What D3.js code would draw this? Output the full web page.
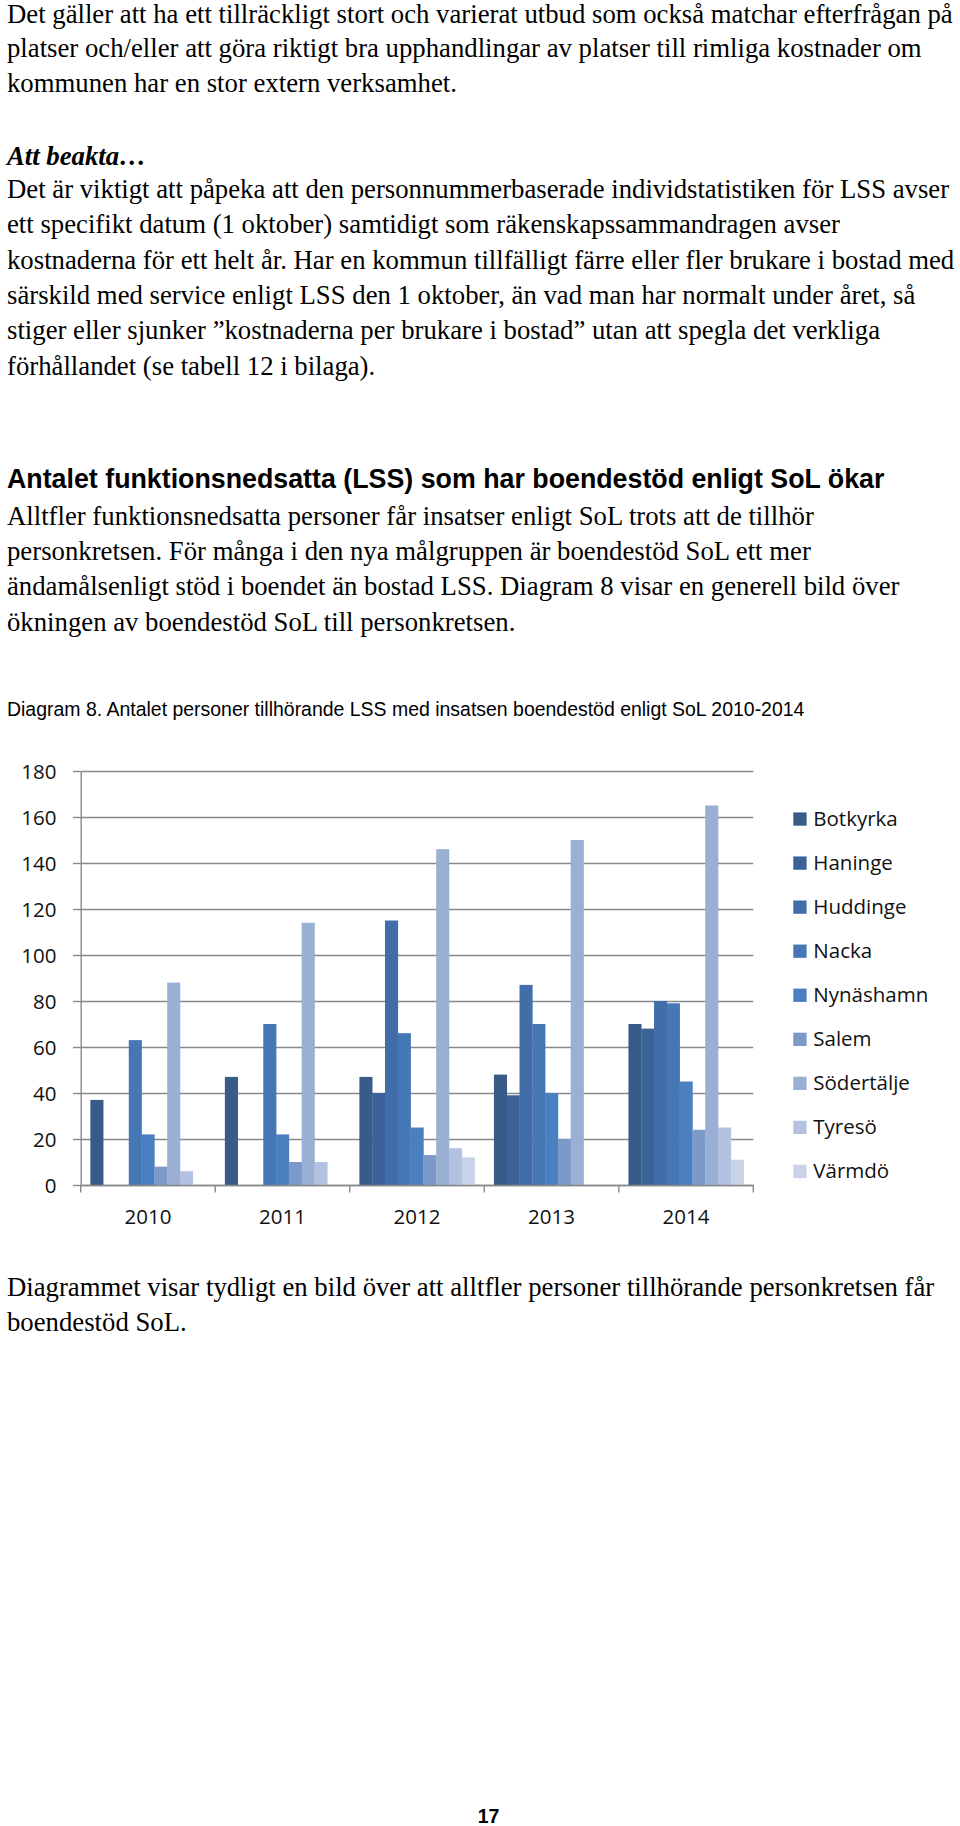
<!DOCTYPE html>
<html><head><meta charset="utf-8">
<script src="https://cdn.jsdelivr.net/npm/d3@7"></script>
<style>html,body{margin:0;padding:0;background:#fff;} svg{display:block;}</style>
</head><body>
<script>
// ---------- data ----------
const years = ["2010", "2011", "2012", "2013", "2014"];
const municipalities = ["Botkyrka", "Haninge", "Huddinge", "Nacka", "Nynäshamn", "Salem", "Södertälje", "Tyresö", "Värmdö"];
const botkyrka   = [37, 47, 47, 48, 70];
const haninge    = [0, 0, 40, 39, 68];
const huddinge   = [0, 0, 115, 87, 80];
const nacka      = [63, 70, 66, 70, 79];
const nynashamn  = [22, 22, 25, 40, 45];
const salem      = [8, 10, 13, 20, 24];
const sodertalje = [88, 114, 146, 150, 165];
const tyreso     = [6, 10, 16, 0, 25];
const varmdo     = [0, 0, 12, 0, 11];
const yTicks = [0, 20, 40, 60, 80, 100, 120, 140, 160, 180];
const seriesValues = [botkyrka, haninge, huddinge, nacka, nynashamn, salem, sodertalje, tyreso, varmdo];
const colors = ["#395b88", "#3c6398", "#416ea8", "#4677b5", "#4b80c0", "#7d99c9", "#9aafd4", "#b2c2e0", "#c9d3e8"];

const para1 = [
  "Det gäller att ha ett tillräckligt stort och varierat utbud som också matchar efterfrågan på",
  "platser och/eller att göra riktigt bra upphandlingar av platser till rimliga kostnader om",
  "kommunen har en stor extern verksamhet."
];
const noteTitle = "Att beakta…";
const para2 = [
  "Det är viktigt att påpeka att den personnummerbaserade individstatistiken för LSS avser",
  "ett specifikt datum (1 oktober) samtidigt som räkenskapssammandragen avser",
  "kostnaderna för ett helt år. Har en kommun tillfälligt färre eller fler brukare i bostad med",
  "särskild med service enligt LSS den 1 oktober, än vad man har normalt under året, så",
  "stiger eller sjunker ”kostnaderna per brukare i bostad” utan att spegla det verkliga",
  "förhållandet (se tabell 12 i bilaga)."
];
const heading = "Antalet funktionsnedsatta (LSS) som har boendestöd enligt SoL ökar";
const para3 = [
  "Alltfler funktionsnedsatta personer får insatser enligt SoL trots att de tillhör",
  "personkretsen. För många i den nya målgruppen är boendestöd SoL ett mer",
  "ändamålsenligt stöd i boendet än bostad LSS. Diagram 8 visar en generell bild över",
  "ökningen av boendestöd SoL till personkretsen."
];
const caption = "Diagram 8. Antalet personer tillhörande LSS med insatsen boendestöd enligt SoL 2010-2014";
const para4 = [
  "Diagrammet visar tydligt en bild över att alltfler personer tillhörande personkretsen får",
  "boendestöd SoL."
];
const pageNumber = "17";

// ---------- page ----------
const W = 960, H = 1826;
const svg = d3.select("body").append("svg").attr("width", W).attr("height", H);

const SERIF = "'Liberation Serif','Times New Roman',serif";
const SANS = "'Liberation Sans',Arial,sans-serif";
const CHARTFONT = "'Open Sans',sans-serif";

function fitSize(family, weight, style, sample, target, base) {
  const t = svg.append("text").attr("font-family", family).attr("font-weight", weight)
    .attr("font-style", style).attr("font-size", base).text(sample);
  const w = t.node().getComputedTextLength();
  t.remove();
  return base * target / w;
}

const bodySize = fitSize(SERIF, "normal", "normal", para1[0], 946, 24);
const headSize = fitSize(SANS, "bold", "normal", heading, 878, 22);
const capSize = fitSize(SANS, "normal", "normal", caption, 798, 18);
const chartSize = fitSize(CHARTFONT, "normal", "normal", "Nynäshamn", 115, 20);

function lines(arr, x, y0, dy, opts) {
  svg.append("g").selectAll("text").data(arr).join("text")
    .attr("x", x).attr("y", (d, i) => y0 + i * dy)
    .attr("font-family", opts.family).attr("font-size", opts.size)
    .attr("font-weight", opts.weight || "normal").attr("font-style", opts.style || "normal")
    .attr("fill", "#000").text(d => d);
}

lines(para1, 7, 22.5, 34.6, {family: SERIF, size: bodySize});
lines([noteTitle], 7, 164.5, 0, {family: SERIF, size: bodySize, weight: "bold", style: "italic"});
lines(para2, 7, 198, 35.3, {family: SERIF, size: bodySize});
lines([heading], 7, 488, 0, {family: SANS, size: headSize, weight: "bold"});
lines(para3, 7, 525, 35.2, {family: SERIF, size: bodySize});
lines([caption], 7, 716, 0, {family: SANS, size: capSize});
lines(para4, 7, 1295.5, 35.3, {family: SERIF, size: bodySize});
svg.append("text").attr("x", 488.5).attr("y", 1823).attr("text-anchor", "middle")
  .attr("font-family", SANS).attr("font-weight", "bold").attr("font-size", 19.5).text(pageNumber);

// ---------- chart ----------
const plot = {left: 80.7, right: 753.3, top: 771, bottom: 1185};
const gridColor = "#898989";

const y = d3.scaleLinear().domain([0, 180]).range([plot.bottom, plot.top]);
const x0 = d3.scaleBand().domain(years).range([plot.left, plot.right]).padding(0);
const x1 = d3.scaleBand().domain(municipalities).range([0, x0.bandwidth()])
  .paddingInner(0).paddingOuter(0.754);
const color = d3.scaleOrdinal().domain(municipalities).range(colors);

// gridlines
svg.append("g").attr("transform", `translate(${plot.left},0)`)
  .call(d3.axisLeft(y).tickValues(yTicks).tickSize(-(plot.right - plot.left)).tickFormat(""))
  .call(g => g.select(".domain").remove())
  .call(g => g.selectAll("line").attr("stroke", gridColor).attr("stroke-width", 1.4));

// bars
const rows = years.map((yr, i) => ({year: yr, values: municipalities.map((m, j) => ({m, v: seriesValues[j][i]}))}));
svg.append("g").selectAll("g").data(rows).join("g")
  .attr("transform", d => `translate(${x0(d.year)},0)`)
  .selectAll("rect").data(d => d.values.filter(e => e.v > 0)).join("rect")
  .attr("x", d => x1(d.m)).attr("width", x1.bandwidth() + 0.3)
  .attr("y", d => y(d.v)).attr("height", d => y(0) - y(d.v))
  .attr("fill", d => color(d.m));

// y axis
svg.append("g").attr("transform", `translate(${plot.left},0)`)
  .call(d3.axisLeft(y).tickValues(yTicks).tickSize(7.7).tickSizeOuter(0).tickPadding(16.5))
  .call(g => g.select(".domain").attr("stroke", gridColor).attr("stroke-width", 1.4))
  .call(g => g.selectAll("line").attr("stroke", gridColor).attr("stroke-width", 1.4))
  .call(g => g.selectAll("text").attr("font-family", CHARTFONT).attr("font-size", chartSize)
    .attr("fill", "#111").attr("dy", "0.36em"));

// x axis
svg.append("g").attr("transform", `translate(0,${plot.bottom})`)
  .call(d3.axisBottom(x0).tickSize(0).tickSizeOuter(0).tickPadding(24.5))
  .call(g => g.select(".domain").attr("stroke", gridColor).attr("stroke-width", 1.4))
  .call(g => g.selectAll("text").attr("font-family", CHARTFONT).attr("font-size", chartSize).attr("fill", "#111"));
const boundaries = years.map(yr => x0(yr)).concat([x0.range()[1]]);
svg.append("g").selectAll("line").data(boundaries).join("line")
  .attr("x1", d => d).attr("x2", d => d).attr("y1", plot.bottom).attr("y2", plot.bottom + 7.5)
  .attr("stroke", gridColor).attr("stroke-width", 1.4);

// legend
const leg = svg.append("g").selectAll("g").data(municipalities).join("g")
  .attr("transform", (d, i) => `translate(793.3,${825.7 + i * 44.05})`);
leg.append("rect").attr("x", 0).attr("y", -13.3).attr("width", 13.3).attr("height", 13.3)
  .attr("fill", d => color(d));
leg.append("text").attr("x", 20).attr("y", 0).attr("font-family", CHARTFONT)
  .attr("font-size", chartSize).attr("fill", "#111").text(d => d);
</script>
</body></html>
